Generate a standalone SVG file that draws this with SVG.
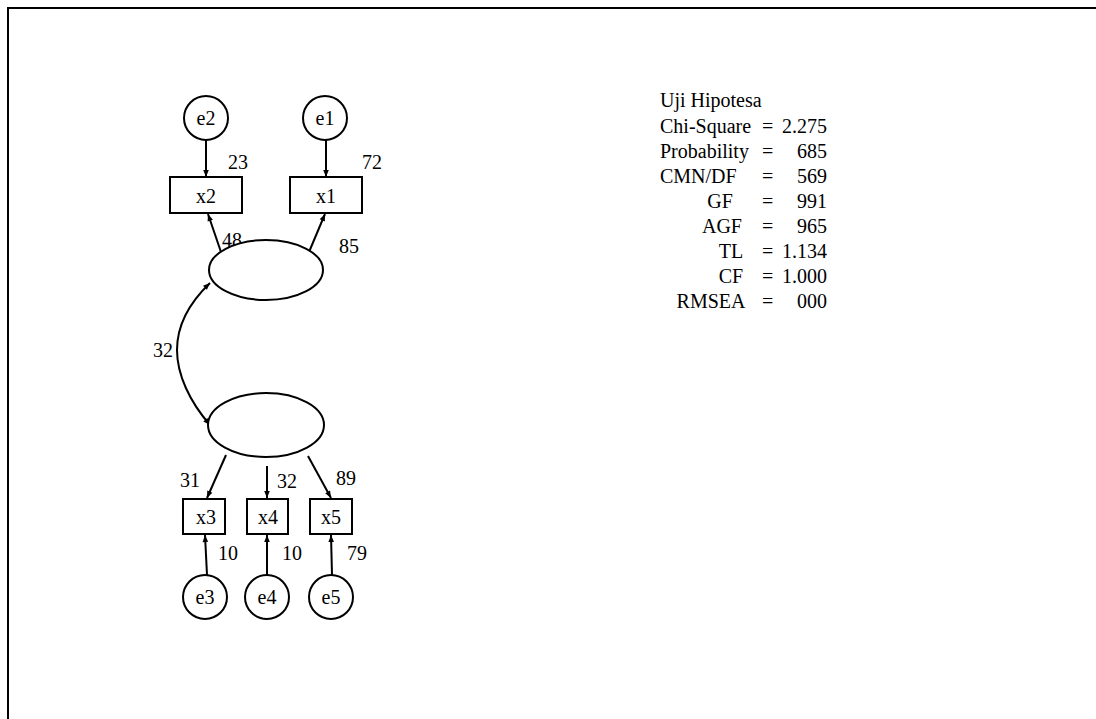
<svg xmlns="http://www.w3.org/2000/svg" width="1096" height="719" viewBox="0 0 1096 719">
<defs>
<style>
text{font-family:"Liberation Serif","Times New Roman",serif;font-size:20px;fill:#000}
.c{text-anchor:middle}
.r{text-anchor:end}
.sh{fill:#fff;stroke:#000;stroke-width:2}
.ln{fill:none;stroke:#000;stroke-width:2}
</style>
<marker id="ah" viewBox="0 0 10 10" refX="10" refY="5" markerWidth="8" markerHeight="7" orient="auto-start-reverse" markerUnits="userSpaceOnUse">
<path d="M0,1 L10,5 L0,9 z" fill="#000"/>
</marker>
</defs>
<rect width="1096" height="719" fill="#fff"/>
<path d="M8,719 L8,8 L1096,8" class="ln"/>
<g id="connectors">
<line x1="206" y1="140" x2="206" y2="177" class="ln" marker-end="url(#ah)"/>
<line x1="326" y1="140" x2="326" y2="177" class="ln" marker-end="url(#ah)"/>
<line x1="222" y1="255" x2="208" y2="214" class="ln" marker-end="url(#ah)"/>
<line x1="309" y1="252" x2="325" y2="214" class="ln" marker-end="url(#ah)"/>
<path d="M210,283 C186,306 177,330 177,350 C177,375 190,402 210,425" class="ln" marker-start="url(#ah)" marker-end="url(#ah)"/>
<line x1="226" y1="455" x2="207" y2="498" class="ln" marker-end="url(#ah)"/>
<line x1="267" y1="466" x2="267" y2="498" class="ln" marker-end="url(#ah)"/>
<line x1="308" y1="456" x2="331" y2="498" class="ln" marker-end="url(#ah)"/>
<line x1="207" y1="575" x2="205" y2="535" class="ln" marker-end="url(#ah)"/>
<line x1="267" y1="575" x2="267" y2="535" class="ln" marker-end="url(#ah)"/>
<line x1="332" y1="575" x2="331" y2="535" class="ln" marker-end="url(#ah)"/>
</g>
<g id="labels">
<text x="238" y="169" class="c">23</text>
<text x="372" y="169" class="c">72</text>
<text x="232" y="247" class="c">48</text>
<text x="349" y="253" class="c">85</text>
<text x="163" y="357" class="c">32</text>
<text x="190" y="487" class="c">31</text>
<text x="287" y="488" class="c">32</text>
<text x="346" y="485" class="c">89</text>
<text x="228" y="560" class="c">10</text>
<text x="292" y="560" class="c">10</text>
<text x="357" y="560" class="c">79</text>
</g>
<g id="e2"><circle cx="206" cy="118" r="22" class="sh"/><text x="206" y="125" class="c">e2</text></g>
<g id="e1"><circle cx="325" cy="118" r="22" class="sh"/><text x="325" y="125" class="c">e1</text></g>
<g id="x2"><rect x="170" y="177" width="72" height="36" class="sh"/><text x="206" y="203" class="c">x2</text></g>
<g id="x1"><rect x="290" y="177" width="72" height="36" class="sh"/><text x="326" y="203" class="c">x1</text></g>
<g id="F1"><ellipse cx="266" cy="270" rx="57" ry="30" class="sh"/></g>
<g id="F2"><ellipse cx="266" cy="425" rx="58" ry="32" class="sh"/></g>
<g id="x3"><rect x="183" y="499" width="42" height="35" class="sh"/><text x="206" y="524" class="c">x3</text></g>
<g id="x4"><rect x="247" y="499" width="41" height="35" class="sh"/><text x="268" y="524" class="c">x4</text></g>
<g id="x5"><rect x="310" y="499" width="42" height="35" class="sh"/><text x="331" y="524" class="c">x5</text></g>
<g id="e3"><circle cx="205" cy="597" r="22" class="sh"/><text x="205" y="604" class="c">e3</text></g>
<g id="e4"><circle cx="267" cy="597" r="22" class="sh"/><text x="267" y="604" class="c">e4</text></g>
<g id="e5"><circle cx="331" cy="597" r="22" class="sh"/><text x="331" y="604" class="c">e5</text></g>
<g id="fit">
<text x="660" y="107">Uji Hipotesa</text>
<text x="660" y="133">Chi-Square</text>
<text x="660" y="158">Probability</text>
<text x="660" y="183">CMN/DF</text>
<text x="720" y="208" class="c">GF</text>
<text x="722" y="233" class="c">AGF</text>
<text x="731" y="258" class="c">TL</text>
<text x="731" y="283" class="c">CF</text>
<text x="711" y="308" class="c">RMSEA</text>
<text x="762" y="133">=</text>
<text x="762" y="158">=</text>
<text x="762" y="183">=</text>
<text x="762" y="208">=</text>
<text x="762" y="233">=</text>
<text x="762" y="258">=</text>
<text x="762" y="283">=</text>
<text x="762" y="308">=</text>
<text x="827" y="133" class="r">2.275</text>
<text x="827" y="158" class="r">685</text>
<text x="827" y="183" class="r">569</text>
<text x="827" y="208" class="r">991</text>
<text x="827" y="233" class="r">965</text>
<text x="827" y="258" class="r">1.134</text>
<text x="827" y="283" class="r">1.000</text>
<text x="827" y="308" class="r">000</text>
</g>
</svg>
